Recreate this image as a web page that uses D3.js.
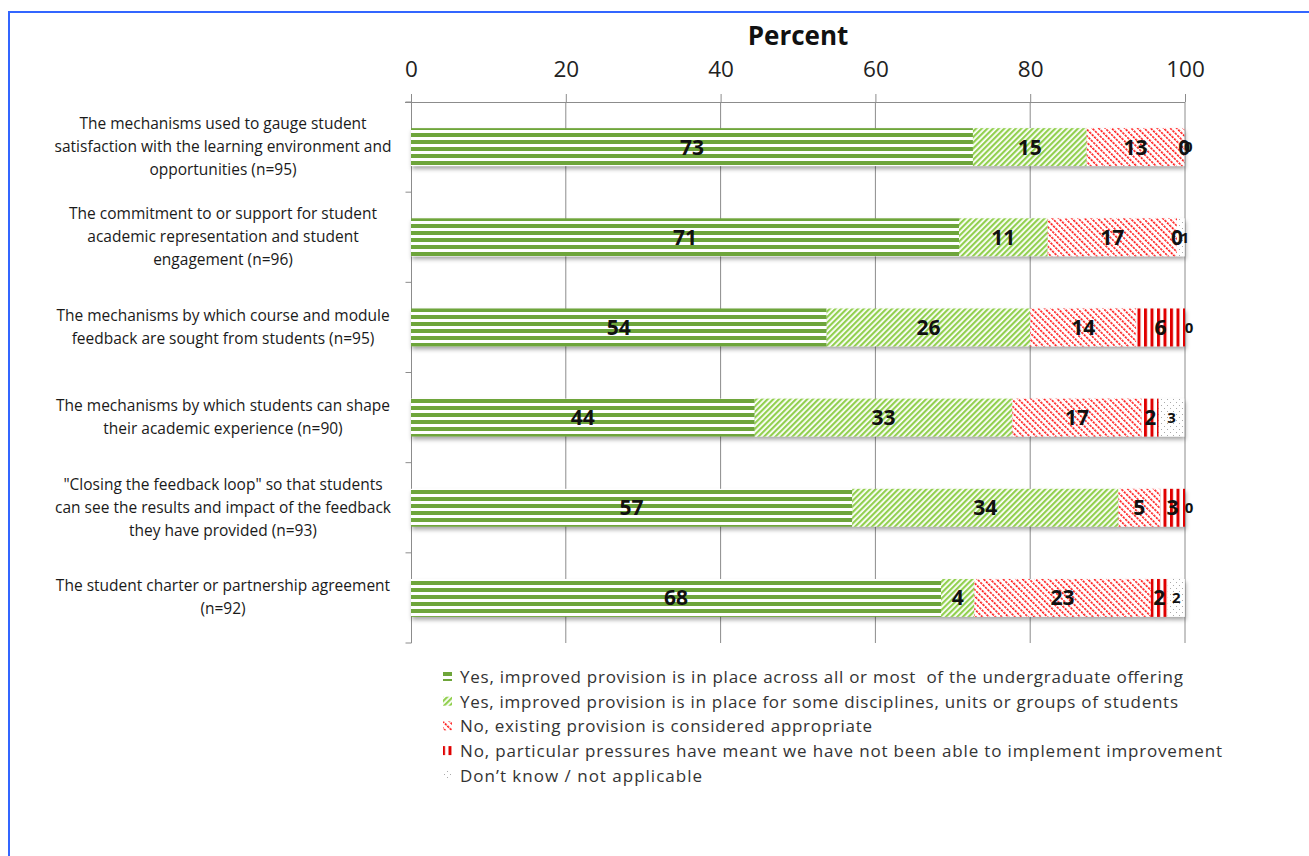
<!DOCTYPE html>
<html><head><meta charset="utf-8">
<script src="https://cdn.jsdelivr.net/npm/d3@7"></script>
<style>body{margin:0;background:#fff}svg{display:block}</style>
</head><body>
<svg id="chart" width="1309" height="856"></svg>
<script>
const categories = [
  ["The mechanisms used to gauge student","satisfaction with the learning environment and","opportunities (n=95)"],
  ["The commitment to or support for student","academic representation and student","engagement (n=96)"],
  ["The mechanisms by which course and module","feedback are sought from students (n=95)"],
  ["The mechanisms by which students can shape","their academic experience (n=90)"],
  ["\"Closing the feedback loop\" so that students","can see the results and impact of the feedback","they have provided (n=93)"],
  ["The student charter or partnership agreement","(n=92)"]
];
const seriesNames = [
  "Yes, improved provision is in place across all or most\u00a0 of the undergraduate offering",
  "Yes, improved provision is in place for some disciplines, units or groups of students",
  "No, existing provision is considered appropriate",
  "No, particular pressures have meant we have not been able to implement improvement",
  "Don\u2019t know / not applicable"
];
const yesAll      = [72.6, 70.8, 53.7, 44.4, 57.0, 68.48];
const yesSome     = [14.7, 11.46, 26.3, 33.3, 34.4, 4.3];
const noApprop    = [12.6, 16.7, 13.7, 16.7, 5.4, 22.8];
const noPressures = [0, 0, 6.3, 2.2, 3.2, 2.2];
const dontKnow    = [0, 1.0, 0, 3.3, 0, 2.2];
const xTicks = [0, 20, 40, 60, 80, 100];
const seriesData = [yesAll, yesSome, noApprop, noPressures, dontKnow];

const svg = d3.select("#chart");
const defs = svg.append("defs");
const FONT = "'Open Sans', sans-serif";

// patterns
const p0 = defs.append("pattern").attr("id","pat0").attr("patternUnits","userSpaceOnUse").attr("width",8).attr("height",7);
p0.append("rect").attr("width",8).attr("height",7).attr("fill","#fff");
p0.append("rect").attr("width",8).attr("height",4).attr("fill","#6ea53a");
const p1 = defs.append("pattern").attr("id","pat1").attr("patternUnits","userSpaceOnUse").attr("width",4).attr("height",4).attr("patternTransform","rotate(45)");
p1.append("rect").attr("width",4).attr("height",4).attr("fill","#fff");
p1.append("rect").attr("width",2.2).attr("height",4).attr("fill","#92d050");
const p2 = defs.append("pattern").attr("id","pat2").attr("patternUnits","userSpaceOnUse").attr("width",4.6).attr("height",3.4).attr("patternTransform","rotate(-45)");
p2.append("rect").attr("width",4.6).attr("height",3.4).attr("fill","#fff");
p2.append("rect").attr("width",1.6).attr("height",2.4).attr("fill","#ff1a1a");
const p3 = defs.append("pattern").attr("id","pat3").attr("patternUnits","userSpaceOnUse").attr("width",6.5).attr("height",6);
p3.append("rect").attr("width",6.5).attr("height",6).attr("fill","#fff");
p3.append("rect").attr("width",3).attr("height",6).attr("fill","#e00000");
const p4 = defs.append("pattern").attr("id","pat4").attr("patternUnits","userSpaceOnUse").attr("width",6).attr("height",6);
p4.append("rect").attr("width",6).attr("height",6).attr("fill","#fff");
p4.append("rect").attr("x",0).attr("y",0).attr("width",1).attr("height",1).attr("fill","#aaa");
p4.append("rect").attr("x",3).attr("y",3).attr("width",1).attr("height",1).attr("fill","#aaa");

const filt = defs.append("filter").attr("id","shadow").attr("x","-5%").attr("y","-20%").attr("width","110%").attr("height","160%");
filt.append("feDropShadow").attr("dx",1).attr("dy",3).attr("stdDeviation",2).attr("flood-color","#000").attr("flood-opacity",0.35);

// border
svg.append("path").attr("d","M9,856V12H1309").attr("fill","none").attr("stroke","#3366ff").attr("stroke-width",2);

const x = d3.scaleLinear().domain([0,100]).range([411,1185]);
const y = d3.scaleBand().domain(d3.range(categories.length)).range([102,643]).paddingInner(0.58).paddingOuter(0.29);
const yb = d3.scaleBand().domain(d3.range(categories.length)).range([102,643]);

// gridlines
svg.append("g").selectAll("line").data(xTicks.slice(1)).join("line")
  .attr("x1",d=>x(d)).attr("x2",d=>x(d)).attr("y1",102).attr("y2",643)
  .attr("stroke","#8c8c8c").attr("stroke-width",1);

// top axis
const gx = svg.append("g").attr("transform","translate(0,102)")
  .call(d3.axisTop(x).tickValues(xTicks).tickSize(8).tickPadding(17).tickFormat(d3.format("d")));
gx.select(".domain").attr("stroke","#8c8c8c").attr("d","M405,0.5H1185");
gx.selectAll(".tick line").attr("stroke","#8c8c8c");
gx.selectAll("text").attr("font-family",FONT).attr("font-size",22.5).attr("fill","#222");

// left axis
const gy = svg.append("g").attr("transform","translate(411.5,0)");
gy.append("line").attr("x1",0).attr("x2",0).attr("y1",102).attr("y2",643).attr("stroke","#8c8c8c");
gy.selectAll("line.t").data(d3.range(categories.length+1)).join("line").attr("class","t")
  .attr("x1",-6).attr("x2",0)
  .attr("y1",d=> d<categories.length ? yb(d) : 643).attr("y2",d=> d<categories.length ? yb(d) : 643)
  .attr("stroke","#8c8c8c");

// title
svg.append("text").attr("x",798).attr("y",45).attr("text-anchor","middle")
  .attr("font-family",FONT).attr("font-weight","bold").attr("font-size",26).attr("fill","#111").text("Percent");

// category labels
const lh = 23;
categories.forEach((lines,i)=>{
  const cy = yb(i)+yb.bandwidth()/2;
  const t = svg.append("text").attr("font-family",FONT).attr("font-size",15.5).attr("fill","#1a1a1a").attr("text-anchor","middle");
  lines.forEach((ln,j)=>{
    t.append("tspan").attr("x",223).attr("y",cy + (j-(lines.length-1)/2)*lh + 5).text(ln);
  });
});

// stack
const rows = categories.map((c,i)=>{
  let acc=0; return seriesData.map((s,k)=>{const r={i,k,x0:acc,x1:acc+s[i],v:s[i]}; acc+=s[i]; return r;});
});
const bars = svg.append("g").attr("filter","url(#shadow)");
rows.forEach(r=>{
  bars.selectAll(null).data(r.filter(d=>d.v>0)).join("rect")
    .attr("x",d=>x(d.x0)).attr("width",d=>x(d.x1)-x(d.x0))
    .attr("y",d=>y(d.i)).attr("height",y.bandwidth())
    .attr("fill",d=>`url(#pat${d.k})`);
});
const lbl = svg.append("g");
rows.forEach(r=>{
  lbl.selectAll(null).data(r).join("text")
    .attr("x",d=>x((d.x0+d.x1)/2) + (d.k===4 && d.v<2 ? 4 : 0)).attr("y",d=>y(d.i)+y.bandwidth()/2)
    .attr("dy","0.36em").attr("text-anchor","middle")
    .attr("font-family",FONT).attr("font-weight","bold")
    .attr("font-size",d=>d.k===4?15:21).attr("fill","#111")
    .text(d=>Math.round(d.v));
});

// legend
const legendWidths = [723, 718, 412, 762, 242];
const lg = svg.append("g");
seriesNames.forEach((n,k)=>{
  const ly = 677 + k*24.7;
  lg.append("rect").attr("x",443).attr("y",ly-5).attr("width",9).attr("height",9).attr("fill",`url(#pat${k})`);
  lg.append("text").attr("x",460).attr("y",ly).attr("dy","0.35em").attr("font-family",FONT).attr("font-size",17)
    .attr("textLength",legendWidths[k]).attr("lengthAdjust","spacing")
    .attr("fill","#333").text(n);
});
</script>
</body></html>
